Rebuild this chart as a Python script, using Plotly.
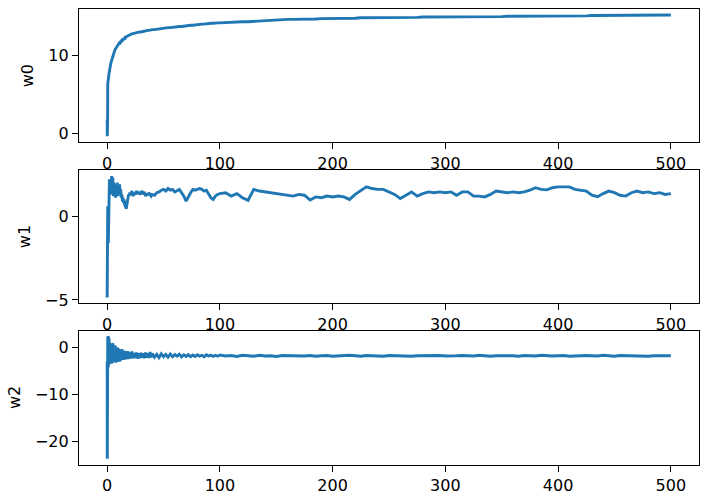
import plotly.graph_objects as go

# iteration axis (shared by all three series)
x = [0, 0.1, 0.2, 0.3, 0.4, 0.5, 0.6, 0.7, 0.8, 0.9,
     1.0, 1.2, 1.4, 1.6, 1.8, 2.0, 2.5, 3.0, 3.5, 4.0,
     4.5, 5.0, 5.5, 6.0, 6.5, 7.0, 7.5, 8.0, 8.5, 9.0,
     9.5, 10, 10.5, 11, 11.5, 12, 12.5, 13, 13.5, 14,
     14.5, 15, 15.5, 16, 16.5, 17, 17.5, 18, 18.5, 19,
     19.5, 20, 21, 22, 23, 24, 25, 26, 27, 28,
     29, 30, 31, 32, 33, 34, 35, 36, 37, 38,
     39, 40, 42, 44, 46, 48, 50, 52, 54, 56,
     58, 60, 62, 64, 66, 68, 70, 72, 74, 76,
     78, 80, 82, 84, 86, 88, 90, 92, 94, 96,
     98, 100, 105, 110, 115, 120, 125, 130, 135, 140,
     145, 150, 155, 160, 165, 170, 175, 180, 185, 190,
     195, 200, 205, 210, 215, 220, 225, 230, 235, 240,
     245, 250, 255, 260, 265, 270, 275, 280, 285, 290,
     295, 300, 305, 310, 315, 320, 325, 330, 335, 340,
     345, 350, 355, 360, 365, 370, 375, 380, 385, 390,
     395, 400, 405, 410, 415, 420, 425, 430, 435, 440,
     445, 450, 455, 460, 465, 470, 475, 480, 485, 490,
     495, 500]

w0 = [1.8, -0.35, 1.5, 0.2, 1.9, 6.3, 6.6, 6.5, 6.9, 6.8,
      7.1, 7.0, 7.4, 7.6, 7.9, 8.0, 8.5, 8.8, 9.1, 9.4,
      9.6, 9.9, 10.1, 10.3, 10.5, 10.7, 10.8, 11.0, 11.1, 11.2,
      11.3, 11.45, 11.4, 11.6, 11.55, 11.75, 11.8, 11.9, 11.85, 12.0,
      12.05, 12.1, 12.2, 12.15, 12.3, 12.35, 12.4, 12.45, 12.5, 12.5,
      12.55, 12.6, 12.65, 12.7, 12.75, 12.8, 12.8, 12.85, 12.9, 12.9,
      12.95, 12.95, 13.0, 13.0, 13.05, 13.1, 13.1, 13.15, 13.15, 13.2,
      13.2, 13.25, 13.25, 13.3, 13.35, 13.4, 13.4, 13.45, 13.5, 13.5,
      13.55, 13.55, 13.6, 13.65, 13.65, 13.7, 13.7, 13.75, 13.8, 13.8,
      13.85, 13.85, 13.9, 13.95, 13.95, 14.0, 14.0, 14.05, 14.05, 14.1,
      14.1, 14.1, 14.15, 14.15, 14.2, 14.25, 14.25, 14.3, 14.3, 14.35,
      14.4, 14.45, 14.5, 14.55, 14.55, 14.55, 14.6, 14.6, 14.6, 14.65,
      14.65, 14.65, 14.7, 14.7, 14.7, 14.7, 14.75, 14.75, 14.75, 14.75,
      14.75, 14.8, 14.8, 14.8, 14.8, 14.8, 14.8, 14.85, 14.85, 14.85,
      14.85, 14.85, 14.85, 14.85, 14.85, 14.9, 14.9, 14.9, 14.9, 14.9,
      14.9, 14.9, 14.95, 14.95, 14.95, 14.95, 14.95, 14.95, 14.95, 15.0,
      15.0, 15.0, 15.0, 15.0, 15.0, 15.0, 15.0, 15.05, 15.05, 15.05,
      15.05, 15.05, 15.05, 15.05, 15.05, 15.05, 15.05, 15.1, 15.1, 15.1,
      15.1, 15.1]

w1 = [-4.85, -3.5, -4.6, -1.0, -4.2, 0.6, -2.5, 0.3, -1.8, 0.5,
      -1.6, 0.4, -0.8, 0.6, 1.2, 2.2, 1.4, 2.0, 1.3, 2.4,
      1.5, 2.3, 1.2, 2.0, 1.4, 1.9, 1.1, 1.8, 1.3, 2.0,
      1.2, 1.7, 1.5, 1.9, 1.3, 1.6, 1.1, 1.3, 0.9, 1.1,
      0.8, 1.0, 0.7, 0.6, 0.5, 0.45, 0.7, 0.9, 1.1, 1.3,
      1.2, 1.4, 1.3, 1.5, 1.2, 1.4, 1.3, 1.5, 1.35, 1.45,
      1.3, 1.4, 1.5, 1.3, 1.45, 1.2, 1.35, 1.25, 1.4, 1.3,
      1.2, 1.3, 1.25, 1.4, 1.45, 1.55, 1.6, 1.5, 1.65, 1.55,
      1.6, 1.45, 1.55, 1.6, 1.4, 1.2, 0.9, 1.2, 1.4, 1.6,
      1.55, 1.6, 1.65, 1.6, 1.5, 1.55, 1.35, 1.1, 1.0, 1.2,
      1.3, 1.35, 1.4, 1.2, 1.35, 1.1, 0.95, 1.6, 1.5, 1.45,
      1.4, 1.35, 1.3, 1.25, 1.2, 1.3, 1.25, 0.96, 1.15, 1.1,
      1.2, 1.15, 1.2, 1.15, 1.0, 1.3, 1.5, 1.75, 1.65, 1.6,
      1.6, 1.45, 1.3, 1.05, 1.25, 1.45, 1.2, 1.35, 1.45, 1.4,
      1.45, 1.4, 1.45, 1.25, 1.45, 1.45, 1.2, 1.2, 1.15, 1.3,
      1.5, 1.45, 1.4, 1.45, 1.4, 1.45, 1.55, 1.7, 1.6, 1.57,
      1.7, 1.75, 1.75, 1.75, 1.6, 1.55, 1.5, 1.25, 1.16, 1.35,
      1.5, 1.4, 1.25, 1.2, 1.4, 1.5, 1.4, 1.45, 1.35, 1.4,
      1.3, 1.35]

w2 = [-3.0, -23.7, -8.0, -15.0, -2.0, 2.2, -4.5, 1.5, -3.5, 2.4,
      -4.0, 1.8, -3.6, 2.0, -3.2, 1.0, -3.0, 0.8, -3.5, 0.5,
      -3.4, 0.9, -3.0, 0.2, -2.8, 0.4, -3.3, -0.2, -2.9, 0.0,
      -3.1, -0.3, -2.8, -0.5, -3.0, -0.6, -2.7, -0.4, -2.6, -0.8,
      -2.7, -0.7, -2.5, -0.9, -2.6, -1.0, -2.4, -0.8, -2.5, -1.0,
      -2.4, -1.1, -2.4, -0.9, -2.3, -1.2, -2.3, -1.1, -2.4, -1.3,
      -2.3, -1.2, -2.2, -1.3, -2.3, -1.1, -2.2, -1.3, -2.25, -1.0,
      -2.15, -1.35, -2.1, -1.5, -2.2, -1.4, -2.0, -1.5, -2.1, -1.45,
      -2.0, -1.55, -1.9, -1.5, -2.05, -1.6, -1.95, -1.55, -2.0, -1.65,
      -1.95, -1.6, -1.9, -1.7, -2.0, -1.6, -1.85, -1.65, -1.95, -1.7,
      -1.9, -1.65, -1.85, -1.75, -1.95, -1.7, -1.8, -1.9, -1.7, -1.85,
      -1.8, -1.95, -1.75, -1.8, -1.7, -1.9, -1.85, -1.75, -1.9, -1.8,
      -1.75, -1.9, -1.8, -1.85, -1.7, -1.8, -1.9, -1.75, -1.85, -1.8,
      -1.9, -1.75, -1.8, -1.7, -1.85, -1.9, -1.8, -1.75, -1.85, -1.8,
      -1.75, -1.85, -1.9, -1.8, -1.75, -1.8, -1.85, -1.7, -1.8, -1.9,
      -1.8, -1.75, -1.85, -1.8, -1.9, -1.75, -1.8, -1.85, -1.7, -1.8,
      -1.85, -1.8, -1.75, -1.9, -1.8, -1.85, -1.75, -1.8, -1.85, -1.7,
      -1.8, -1.9, -1.75, -1.8, -1.85, -1.75, -1.8, -1.9, -1.8, -1.75,
      -1.85, -1.8]

series = [("w0", w0), ("w1", w1), ("w2", w2)]
x_ticks = [0, 100, 200, 300, 400, 500]
y_ticks = [[0, 10], [-5, 0], [-20, -10, 0]]
y_ranges = [[-1.12, 15.85], [-5.2, 2.76], [-25.0, 3.4]]

W, H = 720, 502
x_dom = [79 / W, 699 / W]
y_doms_px = [(9.3, 144.0), (172.0, 307.0), (335.3, 470.5)]
label_x_px = [27.5, 24.5, 14.0]

fig = go.Figure()
font = dict(family="DejaVu Sans", size=16, color="black")
axis_common = dict(showgrid=False, zeroline=False, showline=True, mirror=True,
                   linecolor="black", linewidth=1.3, ticks="outside", ticklen=6,
                   tickwidth=1.3, tickcolor="black", tickfont=font)

for i, (name, vals) in enumerate(series):
    n = "" if i == 0 else str(i + 1)
    fig.add_trace(go.Scatter(x=x, y=vals, mode="lines", name=name,
                             line=dict(color="#1f77b4", width=2.9),
                             xaxis="x" + n, yaxis="y" + n, showlegend=False))
    top, bot = y_doms_px[i]
    fig.update_layout(**{
        "xaxis" + n: dict(domain=x_dom, anchor="y" + n, range=[-25, 525],
                          tickvals=x_ticks, **axis_common),
        "yaxis" + n: dict(domain=[(H - bot) / H, (H - top) / H], anchor="x" + n,
                          range=y_ranges[i], tickvals=y_ticks[i], **axis_common),
    })
    fig.add_annotation(text=name, xref="paper", yref="paper",
                       x=label_x_px[i] / W, y=(H - (top + bot) / 2) / H,
                       showarrow=False, textangle=-90, font=font,
                       xanchor="center", yanchor="middle")

fig.update_layout(width=W, height=H, margin=dict(l=0, r=0, t=0, b=0),
                  paper_bgcolor="white", plot_bgcolor="white", font=font)

fig.write_html("out.html")
